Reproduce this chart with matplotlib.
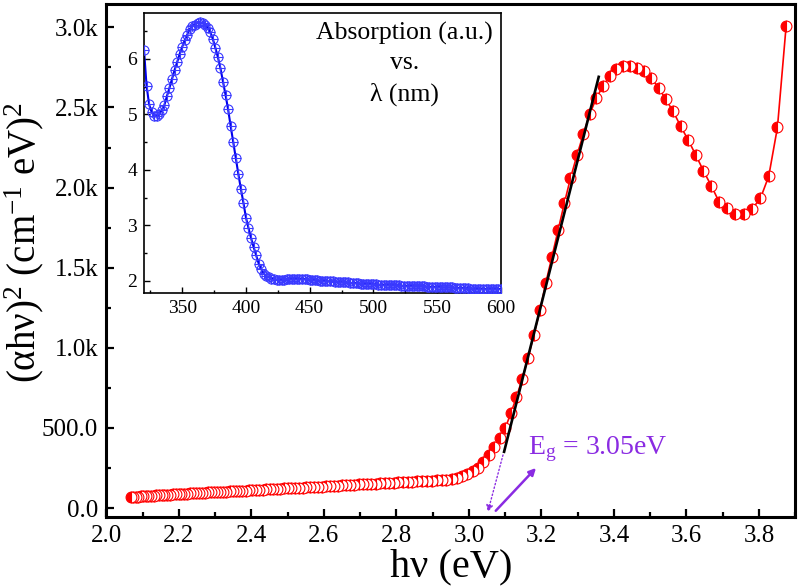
import matplotlib
matplotlib.use('Agg')
import matplotlib.pyplot as plt
from matplotlib.ticker import MultipleLocator, FuncFormatter

plt.rcParams['font.family'] = ['Liberation Serif', 'DejaVu Serif']
plt.rcParams['mathtext.fontset'] = 'custom'
plt.rcParams['mathtext.rm'] = 'Liberation Serif'
plt.rcParams['mathtext.it'] = 'Liberation Serif:italic'
plt.rcParams['mathtext.default'] = 'rm'

#data: photon energy (eV) and (alpha h nu)^2, one point every 2 nm from 320 to 600 nm
photon_energy = [
    3.875, 3.851, 3.827, 3.804, 3.780, 3.758, 3.735, 3.713, 3.690, 3.669,
    3.647, 3.626, 3.605, 3.584, 3.563, 3.543, 3.523, 3.503, 3.483, 3.464,
    3.444, 3.425, 3.407, 3.388, 3.370, 3.351, 3.333, 3.316, 3.298, 3.280,
    3.263, 3.246, 3.229, 3.212, 3.196, 3.179, 3.163, 3.147, 3.131, 3.116,
    3.100, 3.085, 3.069, 3.054, 3.039, 3.024, 3.010, 2.995, 2.981, 2.967,
    2.952, 2.938, 2.925, 2.911, 2.897, 2.884, 2.870, 2.857, 2.844, 2.831,
    2.818, 2.805, 2.793, 2.780, 2.768, 2.756, 2.743, 2.731, 2.719, 2.707,
    2.696, 2.684, 2.672, 2.661, 2.650, 2.638, 2.627, 2.616, 2.605, 2.594,
    2.583, 2.573, 2.562, 2.551, 2.541, 2.531, 2.520, 2.510, 2.500, 2.490,
    2.480, 2.470, 2.460, 2.451, 2.441, 2.431, 2.422, 2.412, 2.403, 2.394,
    2.385, 2.375, 2.366, 2.357, 2.348, 2.340, 2.331, 2.322, 2.313, 2.305,
    2.296, 2.288, 2.279, 2.271, 2.263, 2.255, 2.246, 2.238, 2.230, 2.222,
    2.214, 2.206, 2.199, 2.191, 2.183, 2.175, 2.168, 2.160, 2.153, 2.145,
    2.138, 2.131, 2.123, 2.116, 2.109, 2.102, 2.095, 2.088, 2.081, 2.074,
    2.067,
]
alpha_hv_sq = [
    3009, 2375, 2071, 1932, 1864, 1832, 1838, 1870, 1911, 2009,
    2104, 2202, 2296, 2383, 2477, 2551, 2624, 2681, 2726, 2749,
    2759, 2757, 2739, 2695, 2635, 2556, 2458, 2337, 2202, 2057,
    1901, 1734, 1568, 1404, 1235, 1079, 936, 805, 692, 593,
    499, 437, 378, 328, 285, 252, 230, 212, 198, 188,
    181, 178, 175, 172, 170, 168, 167, 166, 164, 163,
    162, 160, 159, 157, 156, 154, 153, 151, 150, 148,
    147, 145, 144, 142, 141, 140, 138, 137, 136, 134,
    133, 132, 130, 129, 128, 127, 125, 124, 123, 122,
    120, 119, 118, 117, 116, 114, 113, 112, 111, 110,
    109, 108, 107, 106, 105, 104, 103, 102, 101, 100,
    99, 98, 97, 96, 95, 94, 93, 92, 91, 90,
    89, 88, 87, 86, 85, 84, 83, 82, 81, 80,
    79, 78, 77, 76, 75, 74, 73, 72, 72, 71,
    70,
]

#inset: absorption vs wavelength
wavelength = list(range(320, 602, 2))
absorption = [
    6.17, 5.52, 5.18, 5.04, 4.98, 4.97, 5.00, 5.08, 5.17, 5.33,
    5.48, 5.64, 5.80, 5.94, 6.09, 6.22, 6.34, 6.44, 6.54, 6.60,
    6.62, 6.65, 6.66, 6.65, 6.62, 6.56, 6.48, 6.36, 6.20, 6.03,
    5.83, 5.59, 5.35, 5.09, 4.79, 4.51, 4.22, 3.93, 3.66, 3.41,
    3.14, 2.95, 2.77, 2.61, 2.46, 2.31, 2.21, 2.13, 2.09, 2.06,
    2.04, 2.03, 2.02, 2.02, 2.02, 2.02, 2.03, 2.03, 2.03, 2.04,
    2.04, 2.04, 2.04, 2.03, 2.03, 2.02, 2.02, 2.01, 2.01, 2.00,
    2.00, 2.00, 1.99, 1.99, 1.99, 1.98, 1.98, 1.98, 1.97, 1.97,
    1.97, 1.96, 1.96, 1.96, 1.96, 1.95, 1.95, 1.95, 1.95, 1.94,
    1.94, 1.94, 1.93, 1.93, 1.93, 1.93, 1.92, 1.92, 1.92, 1.92,
    1.92, 1.91, 1.91, 1.91, 1.91, 1.91, 1.90, 1.90, 1.90, 1.90,
    1.90, 1.89, 1.89, 1.89, 1.89, 1.89, 1.89, 1.88, 1.88, 1.88,
    1.88, 1.88, 1.87, 1.87, 1.87, 1.87, 1.87, 1.87, 1.86, 1.86,
    1.86, 1.86, 1.86, 1.86, 1.85, 1.85, 1.85, 1.85, 1.85, 1.85,
    1.85,
]

#linear fit of the absorption edge and the extrapolation to the axis
fit_x = [3.097, 3.358]
fit_y = [351, 2691]
band_gap = 3.05

purple = '#8a2be2'

fig = plt.figure(figsize=(8, 5.86), dpi=100)
ax = fig.add_axes([0.133, 0.118, 0.861, 0.875])

#main curve, drawn from high to low energy like the original
ax.plot(photon_energy[::-1], alpha_hv_sq[::-1], '-', color='red', lw=1.2, zorder=2)
ax.plot(photon_energy, alpha_hv_sq, 'o', color='red', ms=7.8, mew=0.8,
        fillstyle='left', markerfacecolor='red', markerfacecoloralt='white',
        markeredgecolor='red', zorder=3)

ax.plot(fit_x, fit_y, color='black', lw=1.9, zorder=4)

#dotted extrapolation down to the axis
ax.annotate('', xy=(3.052, -25), xytext=(fit_x[0] - 0.003, fit_y[0] - 20),
            arrowprops=dict(arrowstyle='-|>', color=purple, lw=1.0, ls=':',
                            mutation_scale=10, shrinkA=0, shrinkB=0))
#solid arrow pointing to the label
ax.annotate('', xy=(3.185, 250), xytext=(3.074, -17),
            arrowprops=dict(arrowstyle='-|>', color=purple, lw=1.8,
                            mutation_scale=10, shrinkA=0, shrinkB=0))
ax.text(3.163, 365, r'E$_\mathrm{g}$ = %.2feV' % band_gap, color=purple,
        fontsize=20, ha='left', va='center')

ax.set_xlim(2.0, 3.9)
ax.set_ylim(-55, 3145)
ax.xaxis.set_major_locator(MultipleLocator(0.2))
ax.xaxis.set_minor_locator(MultipleLocator(0.1))
ax.yaxis.set_major_locator(MultipleLocator(500))
ax.yaxis.set_minor_locator(MultipleLocator(250))
ax.xaxis.set_major_formatter(FuncFormatter(lambda v, p: f'{v:.1f}'))
ax.yaxis.set_major_formatter(FuncFormatter(
    lambda v, p: f'{v/1000:.1f}k' if v >= 1000 else f'{v:.1f}'))
ax.tick_params(which='both', direction='in', top=False, right=False,
               labelsize=18, width=1.6)
ax.tick_params(which='major', length=6, pad=6)
ax.tick_params(which='minor', length=3.5)
for s in ax.spines.values():
    s.set_linewidth(2.2)

ax.set_xlabel('hν (eV)', fontsize=29, labelpad=1)
ax.set_ylabel(r'(αhν)$^2$ (cm$^{-1}$ eV)$^2$', fontsize=28)
ax.yaxis.set_label_coords(-0.088, 0.535)

#inset
ins = fig.add_axes([0.18, 0.5, 0.446, 0.478])
ins.plot(wavelength, absorption, '-', color='#0000ee', lw=1.5, zorder=2)
ins.plot(wavelength, absorption, 'o', ms=6.5, mfc='none', mec='#3a3aff',
         mew=0.8, zorder=3)
ins.plot(wavelength, absorption, '+', ms=6.5, color='#3a3aff', mew=0.8, zorder=3)
ins.set_xlim(320, 600)
ins.set_ylim(1.78, 6.83)
ins.xaxis.set_major_locator(MultipleLocator(50))
ins.xaxis.set_minor_locator(MultipleLocator(25))
ins.yaxis.set_major_locator(MultipleLocator(1))
ins.yaxis.set_minor_locator(MultipleLocator(0.5))
ins.tick_params(which='both', direction='in', top=False, right=False,
                labelsize=14, width=1.0)
ins.tick_params(which='major', length=4, pad=5)
ins.tick_params(which='minor', length=2.5)
for s in ins.spines.values():
    s.set_linewidth(1.2)
ins.text(0.731, 0.818, 'Absorption (a.u.)\nvs.\nλ (nm)', transform=ins.transAxes,
         fontsize=18.5, ha='center', va='center', linespacing=1.45)

fig.savefig('out.png', dpi=100)
